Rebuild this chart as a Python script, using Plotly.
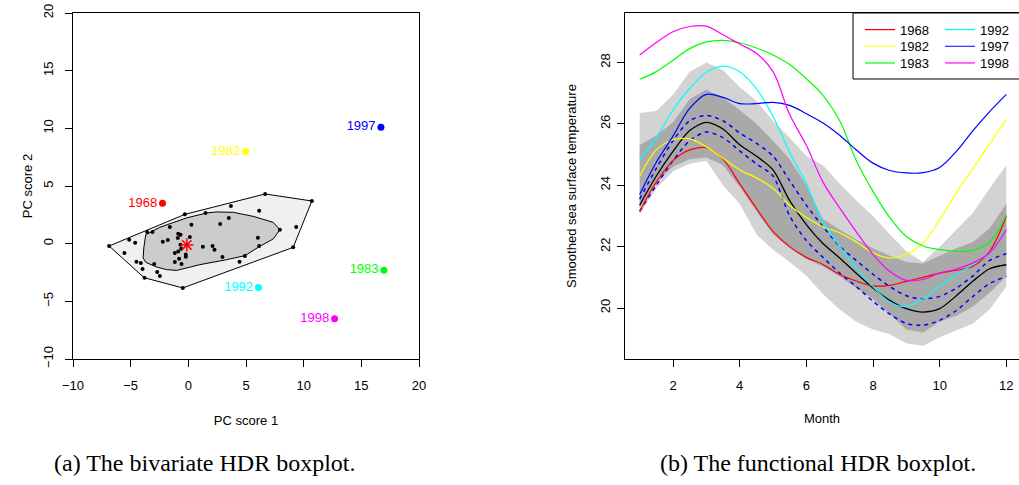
import plotly.graph_objects as go

# ---------------- Left panel: bivariate HDR boxplot ----------------
pc1 = [-3.57, -3.11, -5.13, -4.61, -5.54, -4.50, -4.12, -3.97, -2.96, -2.70,
       -2.47, -2.21, -1.78, -1.60, -0.88, -0.68, -0.91, -0.68, -1.17, -0.88,
       -0.62, -0.22, -0.22, -0.80, -1.17, -0.59, 0.13, 0.27, -0.30, 1.49,
       1.26, 2.10, 2.27, 2.76, 2.96, 3.51, 3.69, 4.44, 4.90, 6.03,
       6.14, 6.14, 7.94, 9.35, 9.09, 10.71, 6.66, -0.48, -6.87, -3.80]
pc2 = [1.01, 1.01, 0.35, 0.09, -0.81, -1.56, -1.68, -2.20, -1.76, -2.46,
       -2.80, 0.17, 0.32, 1.45, 0.87, 0.78, 0.49, -0.09, -0.81, -0.69,
       -0.43, -0.95, -1.13, -1.30, -1.59, -1.76, 0.58, 1.65, 2.54, 2.66,
       -0.26, -0.20, -0.52, 1.71, -1.16, 2.23, 3.27, -1.56, -1.07, 0.52,
       2.86, -0.20, 1.21, 1.45, -0.32, 3.70, 4.31, -3.84, -0.20, -2.95]

outer_x = [-6.87, -0.30, 6.66, 10.71, 9.09, -0.48, -3.83, -6.87]
outer_y = [-0.20, 2.54, 4.31, 3.70, -0.32, -3.84, -2.95, -0.20]

inner_x = [-3.69, -2.47, -0.16, 1.58, 2.45, 3.89, 5.62, 7.36, 7.94, 7.36, 6.20,
           4.90, 3.31, 1.00, -1.02, -1.89, -2.76, -3.69, -3.92, -3.86, -3.69]
inner_y = [0.78, 1.42, 2.23, 2.66, 2.75, 2.72, 2.37, 1.85, 1.21, 0.41, -0.23,
           -1.04, -1.39, -1.82, -2.32, -2.25, -2.02, -1.62, -1.24, -0.37, 0.78]

mode_pc1 = [-0.13]
mode_pc2 = [-0.11]

years = ["1968", "1982", "1983", "1992", "1997", "1998"]
year_colors = ["#FF0000", "#FFFF00", "#00FF00", "#00FFFF", "#0000FF", "#FF00FF"]
out_pc1 = [-2.24, 4.96, 16.96, 6.08, 16.70, 12.68]
out_pc2 = [3.50, 8.00, -2.30, -3.79, 10.10, -6.50]

# ---------------- Right panel: functional HDR boxplot ----------------
months = [1, 1.5, 2, 2.5, 3, 3.5, 4, 4.5, 5, 5.5, 6, 6.5, 7, 7.5, 8, 8.5,
          9, 9.5, 10, 10.5, 11, 11.5, 12]

sst_1968 = [23.15, 24.10, 24.80, 25.15, 25.22, 24.85, 24.05, 23.25, 22.50, 22.00, 21.65, 21.42,
            21.09, 20.88, 20.72, 20.74, 20.87, 21.00, 21.14, 21.23, 21.36, 21.85, 22.99]
sst_1982 = [24.29, 25.15, 25.48, 25.51, 25.25, 24.88, 24.50, 24.24, 23.90, 23.35, 22.95, 22.65,
            22.45, 22.15, 21.80, 21.63, 21.75, 22.12, 22.88, 23.75, 24.55, 25.35, 26.13]
sst_1983 = [27.45, 27.70, 28.07, 28.45, 28.67, 28.72, 28.64, 28.47, 28.24, 27.93, 27.47, 26.93,
            26.10, 24.80, 23.80, 22.95, 22.33, 22.02, 21.90, 21.85, 21.88, 22.15, 23.04]
sst_1992 = [24.84, 25.55, 26.45, 27.15, 27.68, 27.88, 27.70, 27.15, 26.25, 25.07, 24.05, 22.80,
            22.01, 21.30, 20.70, 20.20, 20.05, 20.30, 20.71, 21.07, 21.43, 21.80, 22.55]
sst_1997 = [23.70, 24.75, 25.60, 26.50, 26.96, 26.86, 26.66, 26.66, 26.70, 26.60, 26.33, 26.03,
            25.63, 25.15, 24.72, 24.48, 24.40, 24.41, 24.58, 25.10, 25.78, 26.40, 26.96]
sst_1998 = [28.24, 28.65, 29.00, 29.17, 29.18, 28.90, 28.60, 28.30, 27.70, 26.30, 25.30, 24.10,
            23.26, 22.48, 21.75, 21.20, 20.90, 20.93, 21.14, 21.27, 21.47, 21.80, 22.55]
outlier_curves = [sst_1968, sst_1982, sst_1983, sst_1992, sst_1997, sst_1998]

sst_median = [23.35, 24.30, 25.10, 25.78, 26.05, 25.83, 25.32, 24.95, 24.50, 23.50, 22.72, 22.10,
              21.63, 21.13, 20.65, 20.25, 19.98, 19.87, 19.98, 20.40, 20.88, 21.28, 21.41]
ci_upper = [23.55, 24.55, 25.45, 26.10, 26.27, 26.10, 25.70, 25.37, 24.95, 24.15, 23.35, 22.65,
            22.01, 21.55, 21.10, 20.70, 20.40, 20.30, 20.38, 20.65, 21.05, 21.55, 21.77]
ci_lower = [23.15, 24.00, 24.80, 25.45, 25.73, 25.55, 25.12, 24.70, 24.30, 23.00, 22.20, 21.65,
            21.14, 20.70, 20.22, 19.80, 19.50, 19.44, 19.60, 19.92, 20.38, 20.80, 21.03]

hdr99_upper = [26.35, 26.42, 26.95, 27.70, 28.00, 27.75, 27.20, 26.75, 26.10, 25.55, 24.95, 24.65,
               24.05, 23.50, 23.00, 22.40, 21.85, 21.50, 22.00, 22.55, 23.10, 23.90, 24.65]
hdr99_lower = [23.05, 23.90, 24.45, 24.70, 24.80, 24.00, 23.40, 22.40, 21.90, 21.50, 21.05, 20.45,
               19.95, 19.55, 19.30, 19.15, 18.85, 18.76, 19.05, 19.28, 19.50, 19.95, 20.70]
hdr50_upper = [25.30, 25.62, 26.05, 26.80, 27.12, 26.85, 26.45, 26.00, 25.45, 24.85, 24.00, 22.90,
               22.55, 22.23, 21.95, 21.70, 21.50, 21.45, 21.70, 21.95, 22.15, 22.60, 23.40]
hdr50_lower = [23.25, 24.10, 24.60, 24.85, 24.90, 24.65, 23.95, 23.15, 22.40, 21.95, 21.60, 21.35,
               21.03, 20.65, 20.30, 19.80, 19.30, 19.20, 19.55, 19.75, 20.05, 20.50, 21.03]

FONT = "Liberation Sans, Arial, Helvetica, sans-serif"
SERIF = "Liberation Serif, Times New Roman, serif"

fig = go.Figure()

# ---- left panel traces ----
fig.add_trace(go.Scatter(x=outer_x, y=outer_y, mode="lines", fill="toself",
                         fillcolor="#F0F0F0", line=dict(color="black", width=1),
                         showlegend=False, xaxis="x", yaxis="y", hoverinfo="skip"))
fig.add_trace(go.Scatter(x=inner_x, y=inner_y, mode="lines", fill="toself",
                         fillcolor="#CCCCCC", line=dict(color="black", width=1),
                         showlegend=False, xaxis="x", yaxis="y", hoverinfo="skip"))
fig.add_trace(go.Scatter(x=pc1, y=pc2, mode="markers",
                         marker=dict(color="black", size=4),
                         showlegend=False, xaxis="x", yaxis="y"))
fig.add_trace(go.Scatter(x=mode_pc1, y=mode_pc2, mode="markers",
                         marker=dict(symbol="asterisk-open", size=11, color="#FF0000",
                                     line=dict(color="#FF0000", width=1.5)),
                         showlegend=False, xaxis="x", yaxis="y"))
for yr, c, a, b in zip(years, year_colors, out_pc1, out_pc2):
    fig.add_trace(go.Scatter(x=[a], y=[b], mode="markers+text", text=[yr],
                             textposition="middle left",
                             textfont=dict(color=c, size=13, family=FONT),
                             marker=dict(color=c, size=7),
                             showlegend=False, xaxis="x", yaxis="y"))

# ---- right panel traces ----
def band(upper, lower, color):
    fig.add_trace(go.Scatter(x=months + months[::-1], y=upper + lower[::-1],
                             mode="lines", fill="toself", fillcolor=color,
                             line=dict(width=0, color=color), showlegend=False,
                             xaxis="x2", yaxis="y2", hoverinfo="skip"))

band(hdr99_upper, hdr99_lower, "#D3D3D3")
band(hdr50_upper, hdr50_lower, "#A9A9A9")

fig.add_trace(go.Scatter(x=months, y=sst_median, mode="lines",
                         line=dict(color="black", width=1.3, shape="spline", smoothing=0.8),
                         showlegend=False, xaxis="x2", yaxis="y2"))
for ci in (ci_upper, ci_lower):
    fig.add_trace(go.Scatter(x=months, y=ci, mode="lines",
                             line=dict(color="#0000FF", width=1.5, dash="4px,4px",
                                       shape="spline", smoothing=0.8),
                             showlegend=False, xaxis="x2", yaxis="y2"))

# legend rows (column-major order as in the reference: 1968/1982/1983 | 1992/1997/1998)
legend_row = {"1968": "legend", "1992": "legend",
              "1982": "legend2", "1997": "legend2",
              "1983": "legend3", "1998": "legend3"}
for yr, c, curve in zip(years, year_colors, outlier_curves):
    fig.add_trace(go.Scatter(x=months, y=curve, mode="lines", name=yr,
                             line=dict(color=c, width=1.2, shape="spline", smoothing=1.0),
                             legend=legend_row[yr], xaxis="x2", yaxis="y2"))

# ---------------- layout ----------------
W, H = 1019, 485
ML, MR, MT, MB = 73, 0, 13, 126
PW = W - ML - MR
PH = H - MT - MB

def px_x(p):
    return (p - ML) / PW

def px_y(p):
    return (H - MB - p) / PH

axis_common = dict(showline=True, linecolor="black", linewidth=1, ticks="outside",
                   ticklen=7, tickcolor="black", tickwidth=1, showgrid=False,
                   zeroline=False, tickfont=dict(family=FONT, size=13, color="black"),
                   title_font=dict(family=FONT, size=13, color="black"))

def legend_at(row_px):
    return dict(orientation="h", x=px_x(860), y=px_y(row_px), xanchor="left",
                yanchor="middle", bgcolor="rgba(0,0,0,0)", borderwidth=0,
                font=dict(family=FONT, size=13, color="black"), itemwidth=30,
                entrywidth=35, entrywidthmode="pixels")

fig.update_layout(
    width=W, height=H,
    margin=dict(l=ML, r=MR, t=MT, b=MB, autoexpand=False),
    paper_bgcolor="white", plot_bgcolor="white",
    font=dict(family=FONT, size=13, color="black"),
    xaxis=dict(domain=[0, px_x(419)], range=[-10, 20],
               tickvals=[-10, -5, 0, 5, 10, 15, 20], mirror=True, ticklabelstandoff=7,
               title=dict(text="PC score 1", standoff=24), anchor="y", **axis_common),
    yaxis=dict(domain=[0, 1], range=[-10, 20],
               tickvals=[-10, -5, 0, 5, 10, 15, 20], mirror=True, tickangle=-90,
               ticklabelstandoff=7,
               title=dict(text="PC score 2", standoff=5), anchor="x", **axis_common),
    xaxis2=dict(domain=[px_x(625), 1], range=[0.56, 12.38],
                tickvals=[2, 4, 6, 8, 10, 12], mirror=True, ticklabelstandoff=7,
                title=dict(text="Month", standoff=22), anchor="y2", **axis_common),
    yaxis2=dict(domain=[0, 1], range=[18.34, 29.61],
                tickvals=[20, 22, 24, 26, 28], mirror=False, tickangle=-90,
                ticklabelstandoff=2,
                title=dict(text="Smoothed sea surface temperature", standoff=18),
                anchor="x2", **axis_common),
    legend=legend_at(29.7),
    legend2=legend_at(46.3),
    legend3=legend_at(63),
    shapes=[dict(type="rect", xref="paper", yref="paper",
                 x0=px_x(853), x1=px_x(1030), y0=px_y(79), y1=px_y(13),
                 line=dict(color="black", width=1), fillcolor="white", layer="above")],
    annotations=[
        dict(text="(a) The bivariate HDR boxplot.", xref="paper", yref="paper",
             x=px_x(204.5), y=px_y(463), showarrow=False, xanchor="center", yanchor="middle",
             font=dict(family=SERIF, size=24, color="black")),
        dict(text="(b) The functional HDR boxplot.", xref="paper", yref="paper",
             x=px_x(817.5), y=px_y(463), showarrow=False, xanchor="center", yanchor="middle",
             font=dict(family=SERIF, size=24, color="black")),
    ],
)

fig.write_html("out.html", config={"displayModeBar": False},
               post_script="document.body.style.margin='0';document.body.style.overflow='hidden';")
